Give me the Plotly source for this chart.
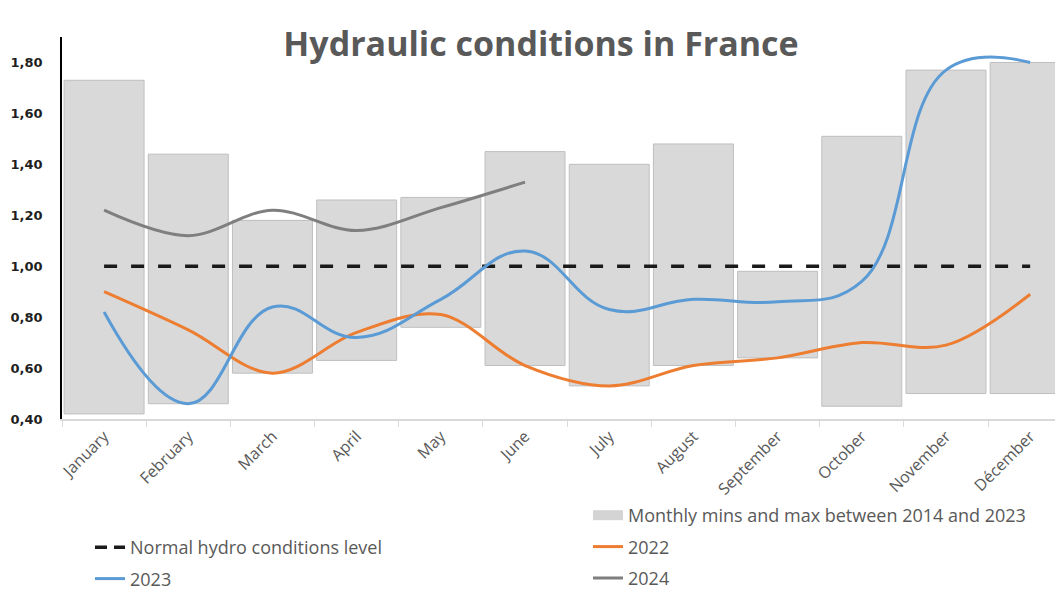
import plotly.graph_objects as go

months = ["January", "February", "March", "April", "May", "June", "July",
          "August", "September", "October", "November", "Décember"]
range_min = [0.42, 0.46, 0.58, 0.63, 0.76, 0.61, 0.53, 0.61, 0.64, 0.45, 0.50, 0.50]
range_max = [1.73, 1.44, 1.18, 1.26, 1.27, 1.45, 1.40, 1.48, 0.98, 1.51, 1.77, 1.80]
normal = [1.00] * 12
y2022 = [0.90, 0.75, 0.58, 0.74, 0.81, 0.61, 0.53, 0.61, 0.64, 0.70, 0.69, 0.89]
y2023 = [0.82, 0.46, 0.84, 0.72, 0.87, 1.06, 0.83, 0.87, 0.86, 0.94, 1.77, 1.80]
y2024 = [1.22, 1.12, 1.22, 1.14, 1.23, 1.33]
y_ticks = [0.40, 0.60, 0.80, 1.00, 1.20, 1.40, 1.60, 1.80]
y_tick_text = ["0,40", "0,60", "0,80", "1,00", "1,20", "1,40", "1,60", "1,80"]

fig = go.Figure()
fig.add_trace(go.Bar(
    x=months, y=[mx - mn for mn, mx in zip(range_min, range_max)], base=range_min,
    name="Monthly mins and max between 2014 and 2023",
    marker=dict(color="#d9d9d9", line=dict(color="#bfbfbf", width=1)),
    showlegend=False, hoverinfo="skip"))
# legend-only entry for the range bars (wide grey box like the reference)
fig.add_trace(go.Scatter(
    x=[None], y=[None], mode="lines", name="Monthly mins and max between 2014 and 2023",
    line=dict(color="#d4d4d4", width=10),
    legend="legend2", legendgroup="a"))
fig.add_trace(go.Scatter(
    x=months, y=normal, mode="lines", name="Normal hydro conditions level",
    line=dict(color="#1a1a1a", width=3.5, dash="13px,14px"),
    showlegend=False))
# legend-only entry for the dashed line (short dash pattern like the reference)
fig.add_trace(go.Scatter(
    x=[None], y=[None], mode="lines", name="Normal hydro conditions level",
    line=dict(color="#1a1a1a", width=3.5, dash="12px,7px"),
    legend="legend", legendgroup="b"))
fig.add_trace(go.Scatter(
    x=months, y=y2022, mode="lines", name="2022",
    line=dict(color="#ed7d31", width=3, shape="spline", smoothing=1.0),
    legend="legend2", legendgroup="c"))
fig.add_trace(go.Scatter(
    x=months, y=y2023, mode="lines", name="2023",
    line=dict(color="#5b9bd5", width=3, shape="spline", smoothing=1.2),
    legend="legend", legendgroup="d"))
fig.add_trace(go.Scatter(
    x=months[:len(y2024)], y=y2024, mode="lines", name="2024",
    line=dict(color="#7f7f7f", width=3, shape="spline", smoothing=1.0),
    legend="legend2", legendgroup="e"))

legend_font = dict(family="Open Sans, sans-serif", size=18, color="#595959")

W, H = 1055, 591  # page body has an 8px margin inside the 1063x599 window

fig.update_layout(
    width=W, height=H,
    margin=dict(l=54, r=0, t=29, b=180, autoexpand=False),
    paper_bgcolor="white", plot_bgcolor="white",
    bargap=0.05,
    title=dict(text="<b>Hydraulic conditions in France</b>",
               font=dict(family="Open Sans, sans-serif", size=34, color="#595959"),
               x=533 / W, xref="container", xanchor="center",
               y=1 - 36 / H, yref="container", yanchor="middle"),
    xaxis=dict(type="category", range=[-0.5, 11.39], automargin=False,
               showline=True, linecolor="#d9d9d9", linewidth=1.5,
               ticks="outside", tickson="boundaries", ticklen=6, tickcolor="#d9d9d9",
               tickangle=-45,
               tickfont=dict(family="Open Sans, sans-serif", size=16, color="#595959"),
               showgrid=False, zeroline=False),
    yaxis=dict(range=[0.40, 1.90], tickvals=y_ticks, ticktext=y_tick_text, automargin=False,
               showline=True, linecolor="#000000", linewidth=1.5,
               ticks="", ticklabelstandoff=15,
               tickfont=dict(family="DejaVu Sans, sans-serif", size=13, color="#1f1f1f", weight="bold"),
               showgrid=False, zeroline=False),
    legend=dict(x=82 / W, xref="container", y=1 - 521 / H, yref="container",
                xanchor="left", yanchor="top", orientation="v",
                font=legend_font, tracegroupgap=5, bgcolor="rgba(0,0,0,0)"),
    legend2=dict(x=580 / W, xref="container", y=1 - 489 / H, yref="container",
                 xanchor="left", yanchor="top", orientation="v",
                 font=legend_font, tracegroupgap=5, bgcolor="rgba(0,0,0,0)"),
)

fig.write_html("out.html")
